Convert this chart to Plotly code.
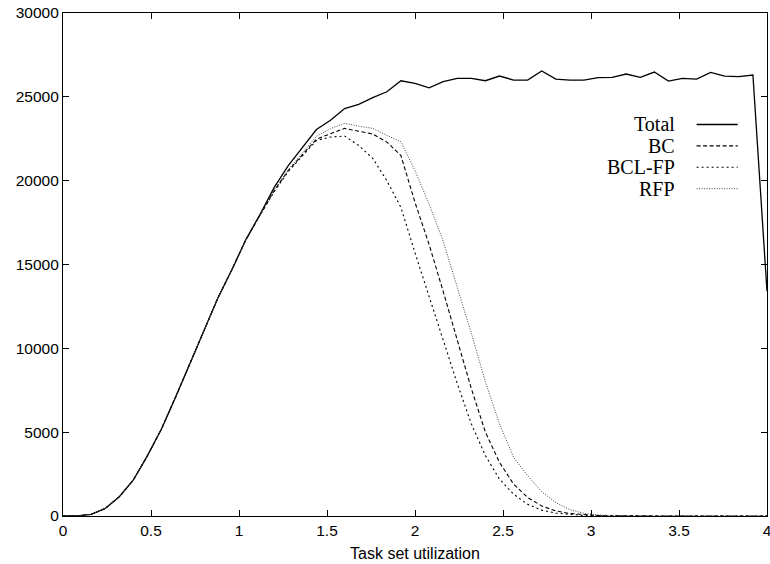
import plotly.graph_objects as go

# x grid: task set utilization, step 0.08
util = [round(i * 0.08, 2) for i in range(51)]

total = [0, 10, 100, 450, 1150, 2150, 3600, 5200, 7100, 9100,
         11100, 13000, 14700, 16500, 18000, 19600, 20900, 22000, 23050, 23600,
         24300, 24550, 24950, 25300, 25960, 25800, 25540, 25900, 26100, 26100,
         25960, 26240, 26000, 26000, 26540, 26060, 26000, 26000, 26140, 26160,
         26360, 26160, 26480, 25940, 26100, 26060, 26460, 26240, 26200, 26300,
         13400]

bc = [0, 10, 100, 450, 1150, 2150, 3600, 5200, 7100, 9100,
      11100, 13000, 14700, 16500, 17950, 19400, 20600, 21550, 22480, 22800,
      23120, 22950, 22780, 22300, 21500, 18700, 16200, 13400, 10500, 7600,
      5000, 3200, 1900, 1100, 600, 300, 150, 70, 30, 10,
      0, 0, 0, 0, 0, 0, 0, 0, 0, 0, 0]

bclfp = [0, 10, 100, 450, 1150, 2150, 3600, 5200, 7100, 9100,
         11100, 13000, 14700, 16500, 17950, 19350, 20550, 21500, 22400, 22600,
         22660, 22100, 21330, 20000, 18400, 15700, 13100, 10500, 7900, 5500,
         3600, 2200, 1300, 700, 350, 170, 80, 30, 10, 0,
         0, 0, 0, 0, 0, 0, 0, 0, 0, 0, 0]

rfp = [0, 10, 100, 450, 1150, 2150, 3600, 5200, 7100, 9100,
       11100, 13000, 14700, 16500, 17950, 19450, 20650, 21650, 22650, 23100,
       23420, 23250, 23120, 22700, 22320, 20600, 18600, 16400, 13700, 10900,
       8000, 5500, 3500, 2400, 1450, 800, 380, 160, 60, 20,
       0, 0, 0, 0, 0, 0, 0, 0, 0, 0, 0]

names = ["Total", "BC", "BCL-FP", "RFP"]
series = [total, bc, bclfp, rfp]
dashes = ["solid", "4px,2.5px", "2px,3px", "1px,1.5px"]
widths = [1.3, 1.1, 1.1, 1.0]
colors = ["#000000", "#000000", "#000000", "#444444"]

fig = go.Figure()
for n, s, d, w, c in zip(names, series, dashes, widths, colors):
    fig.add_trace(go.Scatter(x=util, y=s, mode="lines", name=n,
                             line=dict(color=c, width=w, dash=d),
                             showlegend=False))

# manual gnuplot-style legend: right-aligned label, line sample on the right
row_y = [125, 149, 173, 197]
H = 564.0
W = 770.0
for n, d, w, c, yy in zip(names, dashes, widths, colors, row_y):
    yp = 1 - yy / H
    fig.add_annotation(x=671 / W, y=yp, xref="paper", yref="paper",
                       text=n, showarrow=False, xanchor="right", yanchor="middle",
                       borderpad=0,
                       font=dict(family="Liberation Serif", size=20, color="black"))
    fig.add_shape(type="line", xref="paper", yref="paper",
                  x0=693 / W, x1=738 / W, y0=yp, y1=yp,
                  line=dict(color=c, width=w, dash=d))

fig.update_layout(
    width=770, height=564,
    margin=dict(l=63, r=3, t=13, b=48),
    plot_bgcolor="white", paper_bgcolor="white",
    font=dict(family="Liberation Sans", size=15.5, color="black"),
    xaxis=dict(range=[0, 4], dtick=0.5, tick0=0, showgrid=False, zeroline=False,
               showline=True, linecolor="black", linewidth=1.2, mirror="ticks",
               ticks="inside", ticklen=6, tickcolor="black", tickwidth=1,
               ticklabeloverflow="allow", automargin=False,
               title=dict(text="Task set utilization", font=dict(size=16), standoff=10)),
    yaxis=dict(range=[0, 30000], dtick=5000, tick0=0, showgrid=False, zeroline=False,
               showline=True, linecolor="black", linewidth=1.2, mirror="ticks",
               ticks="inside", ticklen=6, tickcolor="black", tickwidth=1,
               tickformat="d", ticklabeloverflow="allow", automargin=False),
)

fig.write_html("out.html")
